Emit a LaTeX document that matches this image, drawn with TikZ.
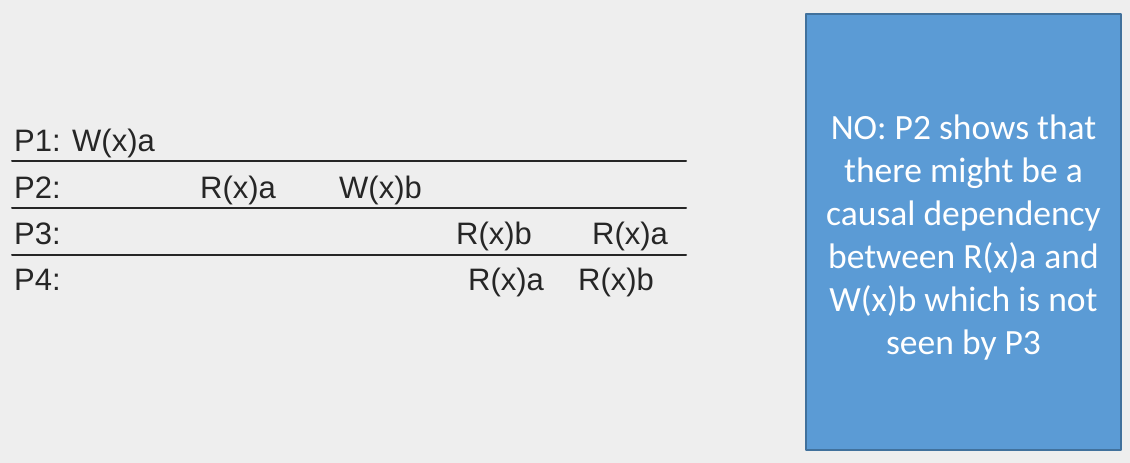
\documentclass[tikz,border=0pt]{standalone}
\usepackage{fontspec}
\setmainfont{Liberation Sans}
\newfontfamily\calloutfont{Carlito}
\definecolor{slide}{HTML}{EEEEEE}
\definecolor{ink}{HTML}{262626}
\definecolor{calloutfill}{HTML}{5B9BD5}
\definecolor{calloutline}{HTML}{41719C}

\begin{document}
\begin{tikzpicture}[x=1pt,y=-1pt, line join=round, line cap=round,
    font=\fontsize{31}{36}\selectfont,
    op/.style={anchor=base west, inner sep=0pt, text=ink},
    callout/.style={draw=calloutline, fill=calloutfill, line width=1.3pt,
      minimum width=315pt, minimum height=436pt, inner sep=0pt},
    callouttext/.style={align=center, text=white, inner sep=0pt,
      font=\calloutfont\fontsize{35.5}{43}\selectfont}]
  \def\xl{12} \def\xr{686}
  \fill[slide] (0,0) rectangle (1130,463);
  \useasboundingbox (0,0) rectangle (1130,463);
  % process names
  \node[op] (p1) at (14,151) {P1: W(x)a};
  \node[op] (p2) at (14,198) {P2:};
  \node[op] (p3) at (14,244) {P3:};
  \node[op] (p4) at (14,290) {P4:};
  % operations
  \node[op] (p2r) at (200,198) {R(x)a};
  \node[op] (p2w) at (339,198) {W(x)b};
  \node[op] (p3b) at (456,244) {R(x)b};
  \node[op] (p3a) at (592,244) {R(x)a};
  \node[op] (p4a) at (468,290) {R(x)a};
  \node[op] (p4b) at (578,290) {R(x)b};
  % separators
  \foreach \y in {161,208,255}
    \draw[ink, line width=2pt] (\xl,\y) -- (\xr,\y);
  \node[callout] (why) at (963.5,232) {};
  \node[callouttext] (whytext) at ([yshift=-6pt]why.center) {NO: P2 shows that\\there might be a\\causal dependency\\between R(x)a and\\W(x)b which is not\\seen by P3};
\end{tikzpicture}
\end{document}
